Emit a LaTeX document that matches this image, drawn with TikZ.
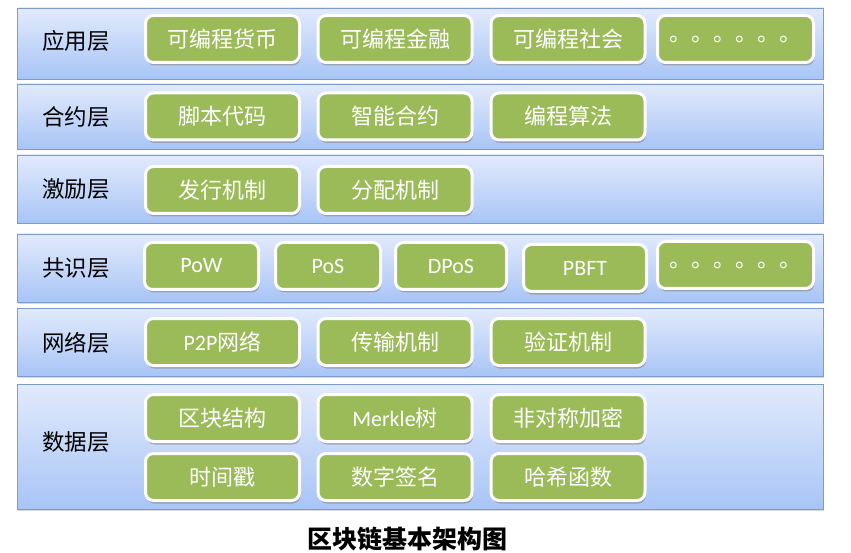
\documentclass[tikz,border=0pt]{standalone}
\usepackage{fontspec}
\setmainfont{Noto Sans CJK SC}
\newfontfamily\latinfont{Carlito}
\usetikzlibrary{shadows}

\definecolor{bandtop}{RGB}{226,234,252}
\definecolor{bandbottom}{RGB}{168,197,246}
\definecolor{bandline}{RGB}{125,155,205}
\definecolor{itemfill}{RGB}{155,187,89}

\begin{document}
\begin{tikzpicture}[x=1pt,y=-1pt,
  band/.style={draw=bandline,line width=0.8pt,top color=bandtop,bottom color=bandbottom,
    minimum width=806pt,inner sep=0pt,
    drop shadow={shadow xshift=0.5pt,shadow yshift=-1.5pt,opacity=0.3}},
  layer/.style={font=\fontsize{22.5}{22.5}\selectfont,text=black},
  item/.style={draw=white,line width=3pt,fill=itemfill,rounded corners=8pt,
    minimum width=154pt,minimum height=47pt,inner sep=0pt,text=white,
    font=\fontsize{22}{22}\selectfont,
    drop shadow={shadow xshift=1pt,shadow yshift=-3pt,opacity=0.55}}]
  \useasboundingbox (0,0) rectangle (851,553);

  \node[band,minimum height=71pt] (app) at (420.5,43.5) {};
  \node[layer] (appl) at (76,41) {应用层};
  \node[item] (coin) at (222.5,39) {可编程货币};
  \node[item] (finance) at (395,39) {可编程金融};
  \node[item] (society) at (568,39) {可编程社会};
  \node[item,minimum width=156pt] (appmore) at (735.5,39) {。。。。。。};

  \node[band,minimum height=65pt] (contract) at (420.5,116.5) {};
  \node[layer] (contractl) at (76,117) {合约层};
  \node[item] (script) at (222.5,116.5) {脚本代码};
  \node[item] (smart) at (395,116.5) {智能合约};
  \node[item] (algo) at (568,116.5) {编程算法};

  \node[band,minimum height=68pt] (incent) at (420.5,189) {};
  \node[layer] (incentl) at (76,189) {激励层};
  \node[item] (issue) at (222.5,190) {发行机制};
  \node[item] (alloc) at (395,190) {分配机制};

  \node[band,minimum height=68pt] (consensus) at (420.5,268) {};
  \node[layer] (consensusl) at (76,268) {共识层};
  \node[item,minimum width=114pt] (pow) at (201.5,266) {\latinfont PoW};
  \node[item,minimum width=105pt] (pos) at (328,266) {\latinfont PoS};
  \node[item,minimum width=111pt] (dpos) at (451,266) {\latinfont DPoS};
  \node[item,minimum width=123pt] (pbft) at (585,268) {\latinfont PBFT};
  \node[item,minimum width=156pt] (consmore) at (735.5,265) {。。。。。。};

  \node[band,minimum height=68pt] (net) at (420.5,342) {};
  \node[layer] (netl) at (76,343) {网络层};
  \node[item] (p2p) at (222.5,342) {{\latinfont P2P}网络};
  \node[item] (trans) at (395,342) {传输机制};
  \node[item] (verify) at (568,342) {验证机制};

  \node[band,minimum height=125pt] (data) at (420.5,446.5) {};
  \node[layer] (datal) at (76,442) {数据层};
  \node[item] (block) at (222.5,418) {区块结构};
  \node[item] (merkle) at (395,418) {{\latinfont Merkle}树};
  \node[item] (asym) at (568,418) {非对称加密};
  \node[item] (stamp) at (222.5,477) {时间戳};
  \node[item] (sign) at (395,477) {数字签名};
  \node[item] (hash) at (568,477) {哈希函数};

  \node[font=\fontsize{25}{25}\selectfont\bfseries] (title) at (407,539) {区块链基本架构图};
\end{tikzpicture}
\end{document}
